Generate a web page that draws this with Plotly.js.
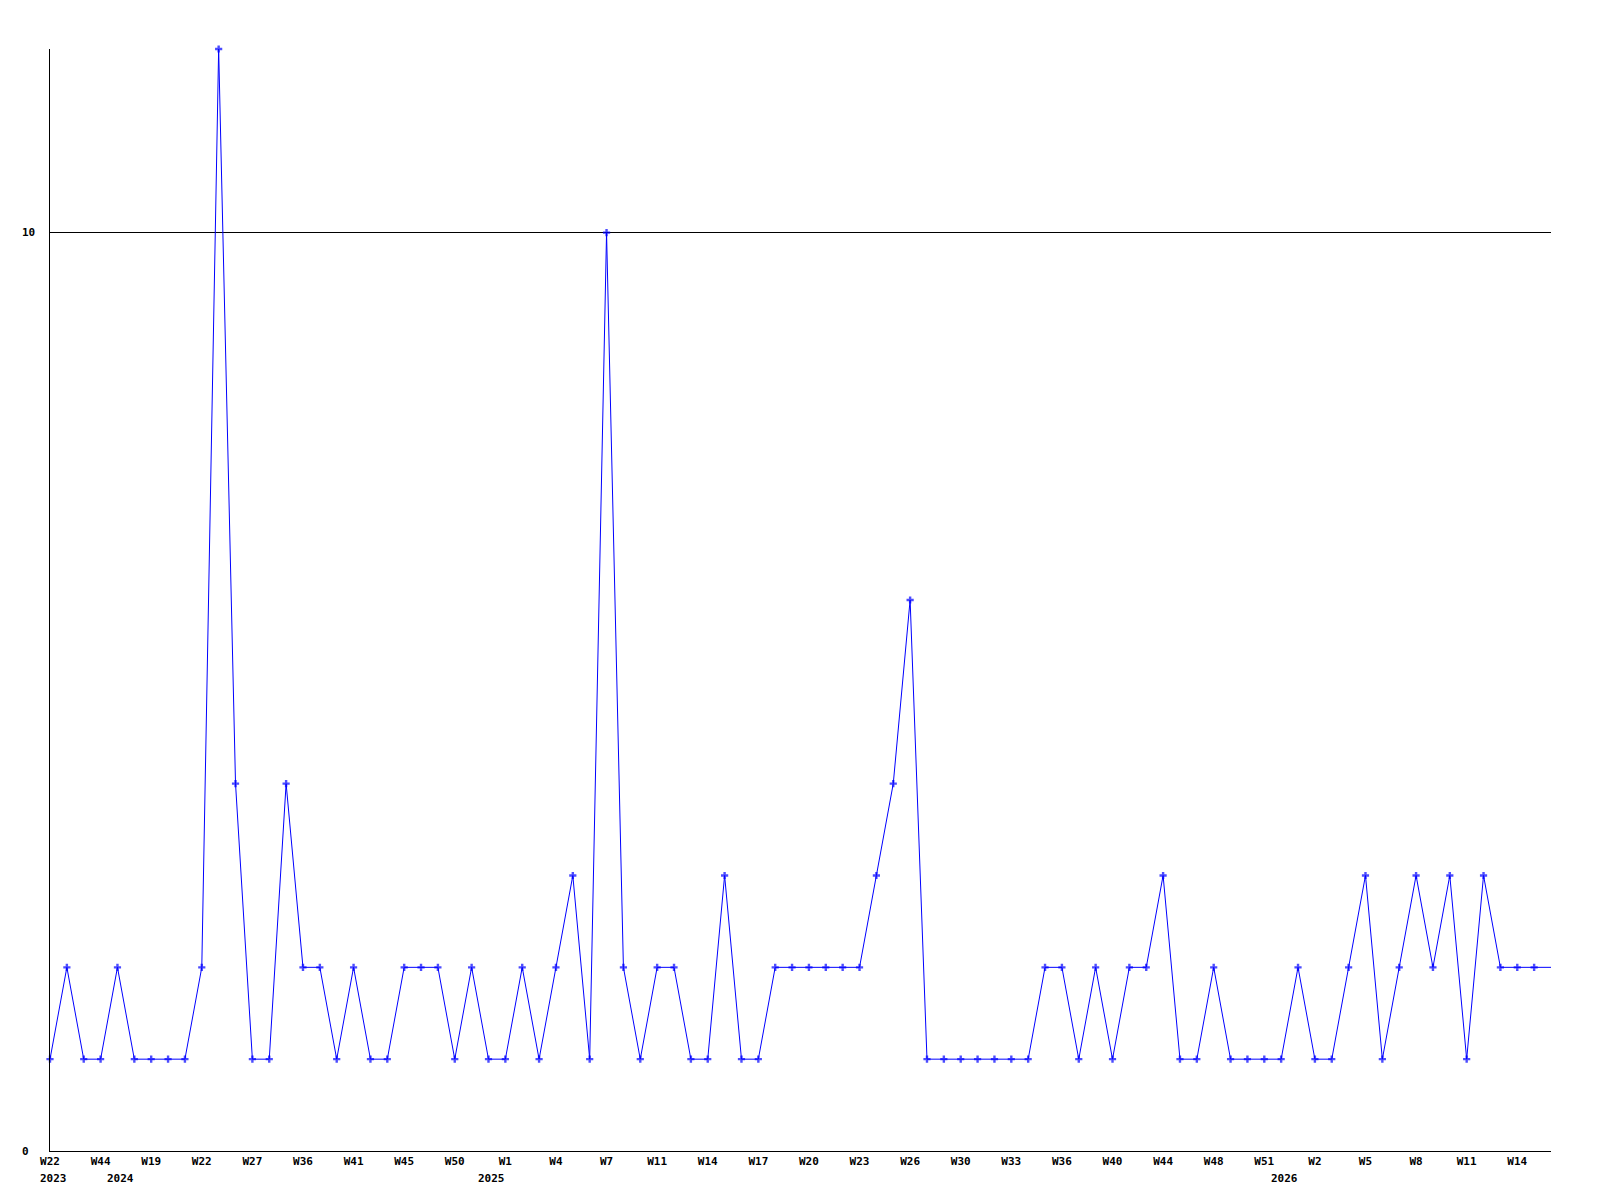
<!DOCTYPE html>
<html>
<head>
<meta charset="utf-8">
<script src="https://cdn.plot.ly/plotly-3.0.1.min.js"></script>
<style>html,body{margin:0;padding:0;background:#fff;}#chart{width:1600px;height:1200px;}</style>
</head>
<body>
<div id="chart"></div>
<script>
// Weekly counts, one value per reporting week (in order)
var values = [
  1,2,1,1,2,1,1,1,1,2,
  12,4,1,1,4,2,2,1,2,1,
  1,2,2,2,1,2,1,1,2,1,
  2,3,1,10,2,1,2,2,1,1,
  3,1,1,2,2,2,2,2,2,3,
  4,6,1,1,1,1,1,1,1,2,
  2,1,2,1,2,2,3,1,1,2,
  1,1,1,1,2,1,1,2,3,1,
  2,3,2,3,1,3,2,2,2,2
];
// Week labels shown on every third week
var weekLabels = ['W22','W44','W19','W22','W27','W36','W41','W45','W50','W1',
                  'W4','W7','W11','W14','W17','W20','W23','W26','W30','W33',
                  'W36','W40','W44','W48','W51','W2','W5','W8','W11','W14'];
// Year labels and the week index where each year begins
var yearLabels = ['2023','2024','2025','2026'];
var yearStartIdx = [0,4,26,73];
// Y tick labels
var yTickVals = [0,10];
var yTickText = ['0','10'];

var idx = values.map(function(v,i){return i;});
var tickStep = 3;
var tickVals = weekLabels.map(function(l,i){return i*tickStep;});
var lastI = values.length - 1;

var fontFam = '"DejaVu Sans Mono", "Liberation Mono", monospace';
var tickFont = {family: fontFam, size: 11, color: '#000', weight: 'bold'};

var trace = {
  x: idx,
  y: values,
  type: 'scatter',
  mode: 'lines+markers',
  line: {color: '#0000ff', width: 1},
  marker: {
    color: '#0000ff',
    symbol: 'cross',
    size: values.map(function(v,i){return i === lastI ? 0 : 6;}),
    line: {width: 0}
  },
  cliponaxis: false,
  hoverinfo: 'x+y'
};

var annotations = [];
yearLabels.forEach(function(t,i){
  annotations.push({
    x: yearStartIdx[i], xref: 'x',
    y: 0, yref: 'paper',
    text: t, showarrow: false,
    xanchor: 'center', yanchor: 'middle',
    xshift: 3, yshift: -27,
    font: tickFont
  });
});
yTickVals.forEach(function(v,i){
  annotations.push({
    x: 0, xref: 'paper',
    y: v, yref: 'y',
    text: yTickText[i], showarrow: false,
    xanchor: 'left', yanchor: 'middle',
    xshift: -30,
    font: tickFont
  });
});

var layout = {
  width: 1600, height: 1200,
  margin: {l: 50, r: 49, t: 49, b: 49, pad: 0},
  paper_bgcolor: '#fff',
  plot_bgcolor: '#fff',
  showlegend: false,
  xaxis: {
    range: [0, lastI],
    tickmode: 'array',
    tickvals: tickVals,
    ticktext: weekLabels,
    ticks: '',
    showgrid: false,
    zeroline: false,
    showline: true,
    linecolor: '#000',
    linewidth: 1,
    tickfont: tickFont,
    fixedrange: true
  },
  yaxis: {
    range: [0, 12],
    tickmode: 'array',
    tickvals: yTickVals,
    showticklabels: false,
    ticks: '',
    showgrid: true,
    gridcolor: '#000',
    gridwidth: 1,
    zeroline: false,
    showline: true,
    linecolor: '#000',
    linewidth: 1,
    fixedrange: true
  },
  annotations: annotations
};

Plotly.newPlot('chart', [trace], layout, {displayModeBar: false, staticPlot: true});
</script>
</body>
</html>
